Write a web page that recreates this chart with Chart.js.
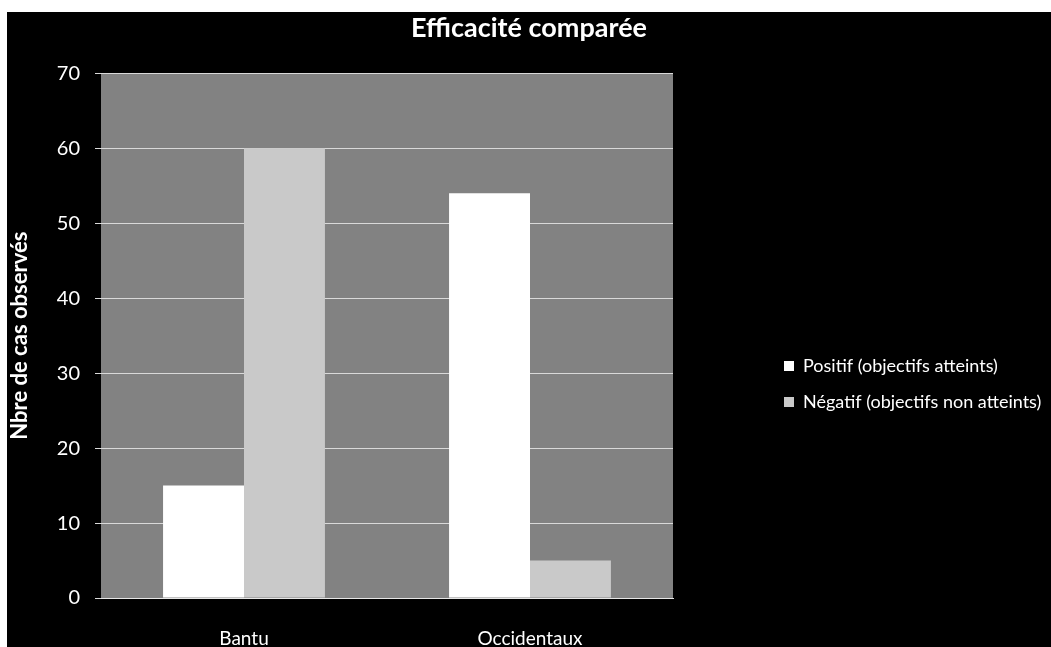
<!DOCTYPE html>
<html>
<head>
<meta charset="utf-8">
<script src="https://cdn.jsdelivr.net/npm/chart.js@4/dist/chart.umd.min.js"></script>
<style>
  html, body { margin: 0; padding: 0; background: #fff; }
  .wrap { position: absolute; left: 7px; top: 12px; width: 1044px; height: 635px; background: #000; }
</style>
</head>
<body>
<div class="wrap"><canvas id="chart" width="1044" height="635"></canvas></div>
<script>
const categories = [`Bantu`, `Occidentaux`];
const seriesNames = [`Positif (objectifs atteints)`, `Négatif (objectifs non atteints)`];
const positif = [15, 54];
const negatif = [60, 5];
const yMin = 0;
const yMax = 70;
const yStep = 10;

const fontFamily = `Lato, "Open Sans", sans-serif`;

// grey plot area behind the bars
const plotBackground = {
  id: `plotBackground`,
  beforeDraw(chart) {
    const {ctx, chartArea: a} = chart;
    ctx.save();
    ctx.fillStyle = `#828282`;
    ctx.fillRect(a.left, a.top, a.right - a.left, a.bottom - a.top);
    ctx.restore();
  },
};

// legend sits far right of the plot, a bit below the middle
const legendPlacement = {
  id: `legendPlacement`,
  beforeInit(chart) {
    const fit = chart.legend.fit;
    chart.legend.fit = function () {
      fit.call(this);
      this.width = 378;
    };
  },
  afterLayout(chart) {
    const lg = chart.legend;
    lg.left = 759;
    lg.top = 327;
  },
};

new Chart(document.getElementById(`chart`), {
  type: `bar`,
  plugins: [plotBackground, legendPlacement],
  data: {
    labels: categories,
    datasets: [
      {label: seriesNames[0], data: positif, backgroundColor: `#ffffff`},
      {label: seriesNames[1], data: negatif, backgroundColor: `#c9c9c9`},
    ],
  },
  options: {
    responsive: false,
    animation: false,
    layout: {padding: 0},
    datasets: {bar: {categoryPercentage: 0.566, barPercentage: 1}},
    plugins: {
      title: {
        display: true,
        text: `Efficacité comparée`,
        color: `#ffffff`,
        font: {family: fontFamily, size: 27, weight: `bold`},
        padding: {top: 0, bottom: 29},
      },
      legend: {
        position: `right`,
        align: `start`,
        labels: {
          color: `#ffffff`,
          font: {family: fontFamily, size: 18},
          boxWidth: 10,
          boxHeight: 10,
          padding: 18,
        },
      },
      tooltip: {enabled: false},
    },
    scales: {
      x: {
        grid: {display: false},
        border: {display: true, color: `#e6e6e6`, width: 1},
        ticks: {color: `#ffffff`, font: {family: fontFamily, size: 19}, padding: 21},
        afterFit: (s) => { s.height = 49; },
      },
      y: {
        min: yMin,
        max: yMax,
        ticks: {stepSize: yStep, color: `#ffffff`, font: {family: fontFamily, size: 20}, padding: 15},
        grid: {color: `#d9d9d9`, lineWidth: 1, tickLength: 6},
        border: {display: false},
        title: {
          display: true,
          text: `Nbre de cas observés`,
          color: `#ffffff`,
          font: {family: fontFamily, size: 22, weight: `bold`},
          padding: {top: 0, bottom: 0},
        },
        afterFit: (s) => { s.width = 94; },
      },
    },
  },
});
</script>
</body>
</html>
